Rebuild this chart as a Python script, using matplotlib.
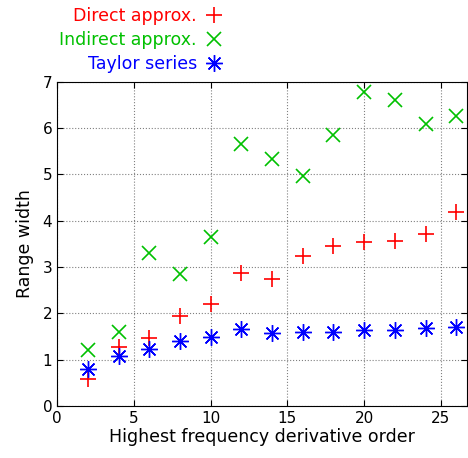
import matplotlib.pyplot as plt
import numpy as np

orders = [2, 4, 6, 8, 10, 12, 14, 16, 18, 20, 22, 24, 26]
direct = [0.57, 1.27, 1.46, 1.95, 2.21, 2.88, 2.75, 3.24, 3.45, 3.55, 3.57, 3.71, 4.20]
indirect = [1.20, 1.59, 3.31, 2.85, 3.64, 5.66, 5.34, 4.97, 5.86, 6.78, 6.61, 6.09, 6.27]
taylor = [0.79, 1.07, 1.22, 1.41, 1.49, 1.66, 1.57, 1.60, 1.60, 1.64, 1.64, 1.68, 1.70]

fig = plt.figure(figsize=(4.68, 4.58), dpi=100)
ax = fig.add_axes([0.122, 0.114, 0.876, 0.707])

ax.plot(orders, direct, linestyle='none', marker='+', markersize=11, mew=1.2,
        color='#ff0000', label='Direct approx.')
ax.plot(orders, indirect, linestyle='none', marker='x', markersize=10, mew=1.2,
        color='#00c000', label='Indirect approx.')
ax.plot(orders, taylor, linestyle='none', marker=(8, 2, 0), markersize=12, mew=1.0,
        color='#0000ff', label='Taylor series')

ax.set_xlim(0, 26.7)
ax.set_ylim(0, 7)
ax.set_xticks([0, 5, 10, 15, 20, 25])
ax.set_yticks(range(8))
ax.tick_params(direction='in', top=True, right=True, labelsize=11, length=4)
ax.grid(True, linestyle=':', color='gray', linewidth=0.8)
ax.set_xlabel('Highest frequency derivative order', fontsize=12.5, labelpad=2)
ax.set_ylabel('Range width', fontsize=12.5, labelpad=6)

leg = ax.legend(loc='lower right', bbox_to_anchor=(0.43, 0.995), frameon=False,
                markerfirst=False, fontsize=12.5, handlelength=1.0, handletextpad=0.5,
                labelspacing=0.35, borderpad=0.1)
for text, line in zip(leg.get_texts(), leg.get_lines()):
    text.set_color(line.get_color())

plt.savefig('out.png', dpi=100)
